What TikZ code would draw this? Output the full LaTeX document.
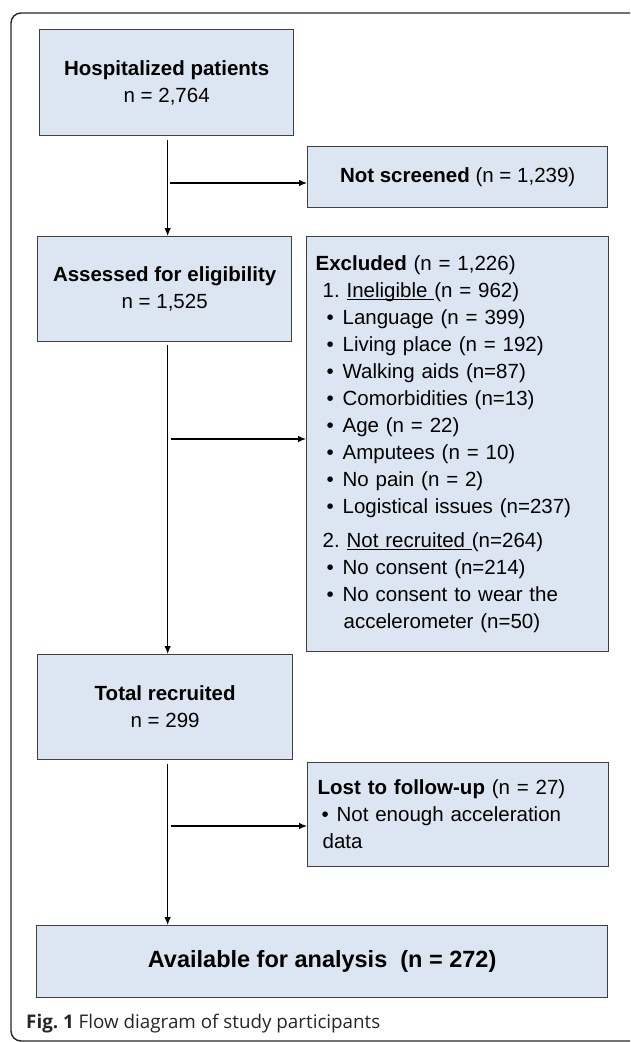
\documentclass[tikz,border=0pt]{standalone}
\usepackage{fontspec}
\setmainfont{Liberation Sans}
\newfontfamily\capfont{Open Sans}
\usetikzlibrary{arrows.meta,positioning}
\definecolor{boxfill}{HTML}{DCE6F2}
\definecolor{boxline}{HTML}{404040}
\newcommand{\uln}[1]{\underline{\smash{#1}}}
\newcommand{\bul}[1][8.8pt]{•\hspace{#1}}
\frenchspacing

\begin{document}
\begin{tikzpicture}[x=1pt,y=-1pt,
  box/.style={draw=boxline, line width=1.3pt, fill=boxfill, shape=rectangle, align=center,
    anchor=north west, inner sep=0pt, font=\fontsize{20.5}{27}\selectfont},
  arr/.style={-{Latex[length=8pt,width=6.5pt]}, line width=1.1pt}]
  \useasboundingbox (0,0) rectangle (630,1042);
  \clip (0,0) rectangle (630,1042);
  \draw[black!85, line width=1.4pt, rounded corners=10pt] (11,13) rectangle (640,1041);
  % boxes
  \node (hosp) [box, minimum width=254pt, minimum height=106pt] at (39,29)
    {\textbf{Hospitalized patients} \\ n = 2,764};
  \node (notscr) [box, minimum width=300pt, minimum height=61pt] at (307,146)
    {\textbf{Not screened} (n = 1,239)};
  \node (elig) [box, minimum width=254pt, minimum height=105pt] at (37,236)
    {\textbf{Assessed for eligibility} \\ n = 1,525};
  \node (excl) [box, minimum width=302pt, minimum height=415pt, text width=284pt, align=left] at (306,236)
    {\textbf{Excluded} (n = 1,226)\\
     \hspace*{7pt}1. \uln{Ineligible\ }(n = 962)\\
     \hspace*{11pt}\bul Language (n = 399)\\
     \hspace*{11pt}\bul Living place (n = 192)\\
     \hspace*{11pt}\bul Walking aids (n=87)\\
     \hspace*{11pt}\bul Comorbidities (n=13)\\
     \hspace*{11pt}\bul Age (n = 22)\\
     \hspace*{11pt}\bul Amputees (n = 10)\\
     \hspace*{11pt}\bul No pain (n = 2)\\
     \hspace*{11pt}\bul Logistical issues (n=237)\\[7pt]
     \hspace*{7pt}2. \uln{Not recruited\ }(n=264)\\
     \hspace*{11pt}\bul No consent (n=214)\\
     \hspace*{11pt}\bul No consent to wear the\\
     \hspace*{28pt}accelerometer (n=50)};
  \node (recr) [box, minimum width=255pt, minimum height=105pt] at (37,654)
    {\textbf{Total recruited} \\ n = 299};
  \node (lost) [box, minimum width=301pt, minimum height=104pt, text width=281pt, align=left] at (307,762)
    {\textbf{Lost to follow-up} (n = 27)\\
     \hspace*{4pt}\bul[7.8pt]Not enough acceleration\\
     \hspace*{5pt}data};
  \node (avail) [box, minimum width=571pt, minimum height=72pt,
    font=\bfseries\fontsize{23.5}{28}\selectfont] at (36,925)
    {Available for analysis\ \ (n = 272)};
  \node (cap) [anchor=west, inner sep=0pt, text=black!85,
    font=\capfont\fontsize{18.8}{21}\selectfont] at (26,1024)
    {\textbf{Fig. 1} Flow diagram of study participants};
  % connectors
  \coordinate (sp) at ([xshift=1pt]hosp.south);
  \coordinate (s1) at ([yshift=-4pt]hosp.south);
  \coordinate (s2) at ([yshift=-3pt]elig.south);
  \coordinate (s3) at ([yshift=-4pt]recr.south);
  \coordinate (b1) at (170,183);
  \coordinate (b2) at (171,439);
  \coordinate (b3) at (171,826);
\draw[arr] (sp |- s1) -- (sp |- elig.north);
\draw[arr] (b1) -- (b1 -| notscr.west);
\draw[arr] (sp |- s2) -- (sp |- recr.north);
\draw[arr] (b2) -- (b2 -| excl.west);
\draw[arr] (sp |- s3) -- (sp |- avail.north);
\draw[arr] (b3) -- (b3 -| lost.west);
\end{tikzpicture}
\end{document}
